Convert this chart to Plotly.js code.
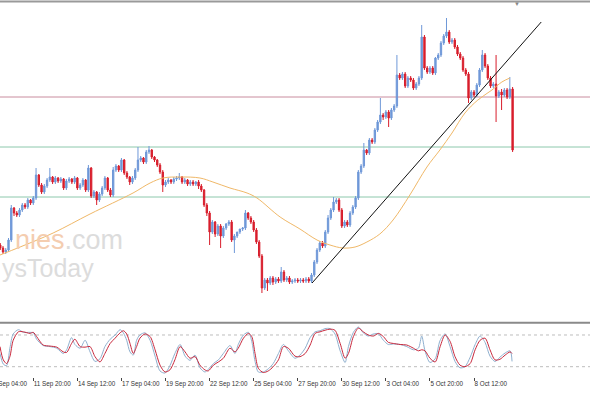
<!DOCTYPE html>
<html><head><meta charset="utf-8">
<script src="https://cdn.plot.ly/plotly-3.0.1.min.js"></script>
<style>html,body{margin:0;padding:0;background:#fff;}#chart{width:590px;height:393px;}</style>
</head><body><div id="chart"></div>
<script>
// H4 bars, index 0 = 9 Sep 04:00 ; first visible bar index
const firstBar = 4;
const openP = [75,72,68,70,80,112,107,105,110,115,
113,120,117,122,145,135,128,134,140,143,
138,142,139,141,132,139,141,138,142,132,
135,140,130,152,124,128,120,126,132,142,
130,125,150,154,150,160,147,143,138,142,
150,160,162,158,168,170,163,160,155,148,
135,138,140,138,141,142,143,138,140,136,
138,136,138,134,130,115,107,88,98,86,
94,84,92,96,98,80,84,88,91,92,
107,102,98,90,78,64,32,40,37,42,
38,41,39,48,40,42,38,39,40,39,
40,39,41,39,45,58,70,77,74,88,
102,110,118,120,110,94,98,95,107,113,
122,148,154,170,167,180,178,190,198,205,
203,208,202,210,214,245,242,246,234,242,
240,232,236,242,283,252,248,252,247,262,
265,277,284,288,278,280,273,266,262,250,
246,222,228,225,235,250,265,254,242,234,
236,224,228,225,230,223,231];
const highP = [77,74,72,82,115,113,109,112,117,117,
122,121,124,152,146,137,136,142,152,144,
144,143,143,142,141,143,142,144,143,137,
142,141,155,153,130,129,128,134,144,143,
132,153,156,155,162,161,149,144,144,152,
173,164,163,170,174,171,164,161,157,150,
140,142,141,143,144,147,144,142,141,140,
140,139,140,136,131,117,109,100,99,96,
96,94,97,100,100,86,88,91,93,110,
108,104,100,92,80,66,42,42,44,44,
43,43,53,50,44,44,41,42,42,42,
42,43,43,47,60,72,79,79,90,105,
112,123,122,122,112,100,100,109,115,124,
150,156,177,171,182,182,192,200,222,207,
210,210,212,216,265,247,248,248,244,244,
242,238,244,295,285,254,254,254,263,267,
279,286,302,290,282,282,275,268,264,252,
248,230,230,237,252,270,267,256,244,238,
265,230,231,232,232,243,233];
const lowP = [70,66,66,68,78,104,103,103,108,111,
111,115,115,120,133,126,126,132,138,136,
136,137,137,130,130,137,136,136,130,130,
133,128,128,122,122,115,118,124,130,128,
123,123,148,148,148,145,141,135,136,140,
148,158,156,156,166,161,158,153,146,128,
133,136,136,136,139,140,136,136,134,134,
134,134,131,128,113,104,75,86,83,84,
72,82,90,94,78,67,82,86,89,90,
100,96,88,76,62,27,30,29,35,35,
36,37,37,38,38,36,36,37,37,37,
37,37,37,37,43,56,68,72,72,86,
100,108,116,108,92,92,93,93,105,111,
120,146,152,165,165,176,176,188,196,200,
201,193,200,208,212,240,240,232,232,238,
230,230,234,240,250,246,246,245,245,260,
263,275,282,276,276,271,264,260,248,244,
217,220,223,223,233,248,252,240,232,232,
198,222,210,223,221,221,168];
const closeP = [72,68,70,80,112,107,105,110,115,113,
120,117,122,145,135,128,134,140,143,138,
142,139,141,132,139,141,138,142,132,135,
140,130,152,124,128,120,126,132,142,130,
125,150,154,150,160,147,143,138,142,150,
160,162,158,168,170,163,160,155,148,135,
138,140,138,141,142,143,138,140,136,138,
136,138,134,130,115,107,88,98,86,94,
84,92,96,98,80,84,88,91,92,107,
102,98,90,78,64,32,40,37,42,38,
41,39,48,40,42,38,39,40,39,40,
39,41,39,45,58,70,77,74,88,102,
110,118,120,110,94,98,95,107,113,122,
148,154,170,167,180,178,190,198,205,203,
208,202,210,214,245,242,246,234,242,240,
232,236,242,283,252,248,252,247,262,265,
277,284,288,278,280,273,266,262,250,246,
222,228,225,235,250,265,254,242,234,236,
224,228,225,230,223,231,170];

// moving average (orange), read at bar positions
const maBar = [3.9,11.2,23.2,36.6,52.2,58.4,63.1,69.3,76.5,81.2,87.4,93.6,97.2,105.6,112.8,119.0,123.7,128.4,132.8,137.1,141.8,146.6,152.7,158.9,163.6,168.0,172.7,177.4,182.5,186.1,189.0];
const maVal = [65,73,87,106,127,137,142,143,142,138,132,127,122,103,91,80,75,72,73,78,86,100,125,153,170,187,207,220,230,238,242];

// trend line end points
const trendBar = [117.2, 200.4];
const trendVal = [37, 298];

// horizontal levels
const levelPink = 223;
const levelGreen = [173, 123];

// stochastic
const stBar = [3.9,5.1,6.3,7.5,8.7,10.6,12.4,14.8,16,17.2,19.6,22.1,24.5,26.9,28.1,29.9,31.1,33.0,34.8,36.6,38.4,40.2,42.0,43.9,45.7,47.5,48.7,49.9,51.1,52.3,53.5,54.7,56.6,58.4,60.2,62.0,63.8,65.6,67.4,69.3,71.1,72.9,74.7,76.5,78.3,79.5,81.4,83.2,85.0,87.4,89.2,90.4,92.3,94.1,95.3,96.5,97.7,99.5,101.3,103.1,105.0,106.8,108.6,111.0,112.8,114.7,116.5,118.3,120.1,121.9,123.7,125.5,127.4,129.2,130.4,132.2,134.0,135.8,137.6,139.5,141.3,143.1,144.9,146.7,149.2,151.6,154.0,155.8,157.0,158.2,160.0,161.9,163.7,165.5,167.3,169.1,170.9,172.7,174.6,176.4,178.2,180.0,181.8,183.6,185.4,187.3,189.1,189.8];
const stSignal = [58,33,26,39,70,86,86,83,85,77,61,59,57,48,47,64,72,58,57,58,39,29,45,64,74,84,88,82,64,45,58,74,82,77,52,23,10,14,33,58,48,36,39,23,14,12,23,29,36,55,48,55,74,83,77,45,17,9,12,20,33,58,55,40,39,45,61,83,86,89,91,89,64,36,45,77,93,86,80,78,83,77,66,64,62,61,55,50,52,50,36,29,58,80,68,39,23,20,26,52,70,74,52,33,34,42,48,45];
const stMain = [45,25,22,55,82,90,85,85,84,72,60,58,55,45,52,75,62,55,70,48,30,35,58,72,80,90,84,70,48,42,70,80,84,70,40,12,8,22,45,62,40,32,42,18,10,15,26,33,45,60,45,62,80,85,68,30,10,10,16,26,45,62,50,36,42,55,75,86,88,92,92,82,50,28,58,85,95,84,78,82,82,70,62,63,62,58,52,55,78,50,28,35,70,82,58,30,18,20,38,62,78,66,40,30,38,46,50,30];
const stLevels = [20, 80];

// time axis labels
const tickBars = [16,32,48,64,80,96,112,128,144,160,176];
const tickLabels = ["11 Sep 20:00","14 Sep 12:00","17 Sep 04:00","19 Sep 20:00","22 Sep 12:00","25 Sep 04:00","27 Sep 20:00","30 Sep 12:00","3 Oct 04:00","5 Oct 20:00","8 Oct 12:00"];
const firstLabel = "9 Sep 04:00";

const bars = closeP.map((_, i) => firstBar + i);
const up = '#6f98d8', dn = '#d81e2c';
const tickFont = {family:'Liberation Sans, Arial, sans-serif', size:6.3, color:'#333'};

const traces = [
  {type:'candlestick', x:bars, open:openP, high:highP, low:lowP, close:closeP,
   xaxis:'x', yaxis:'y',
   increasing:{line:{color:up, width:1}, fillcolor:up},
   decreasing:{line:{color:dn, width:1}, fillcolor:dn},
   whiskerwidth:0, hoverinfo:'skip'},
  {type:'scatter', mode:'lines', x:maBar, y:maVal, xaxis:'x', yaxis:'y',
   line:{color:'#f0b868', width:1, shape:'spline', smoothing:1}, hoverinfo:'skip'},
  {type:'scatter', mode:'lines', x:trendBar, y:trendVal, xaxis:'x', yaxis:'y',
   line:{color:'#111', width:1}, hoverinfo:'skip'},
  {type:'scatter', mode:'lines', x:stBar, y:stMain, xaxis:'x', yaxis:'y2',
   line:{color:'#8fb0cf', width:1, shape:'spline', smoothing:0.8}, hoverinfo:'skip'},
  {type:'scatter', mode:'lines', x:stBar, y:stSignal, xaxis:'x', yaxis:'y2',
   line:{color:'#c8283c', width:1, shape:'spline', smoothing:0.8}, hoverinfo:'skip'}
];

const H = 393, W = 590;
const shapes = [
  {type:'line', xref:'paper', yref:'y', x0:0, x1:1, y0:levelPink, y1:levelPink, line:{color:'#c98c9e', width:1}, layer:'below'},
  ...levelGreen.map(v => ({type:'line', xref:'paper', yref:'y', x0:0, x1:1, y0:v, y1:v, line:{color:'#8cc8ac', width:1}, layer:'below'})),
  ...stLevels.map(v => ({type:'line', xref:'paper', yref:'y2', x0:0, x1:1, y0:v, y1:v, line:{color:'#bdbdbd', width:1, dash:'dot'}, layer:'below'})),
  {type:'line', xref:'paper', yref:'paper', x0:0, x1:1, y0:1-1.5/H, y1:1-1.5/H, line:{color:'#9a9a9a', width:2}},
  {type:'line', xref:'paper', yref:'paper', x0:0, x1:1, y0:1-322.8/H, y1:1-322.8/H, line:{color:'#8a8a8a', width:2}}
];

const annotations = [
  {xref:'paper', yref:'paper', x:13/W, y:1-240/H, xanchor:'left', yanchor:'middle', showarrow:false,
   text:'<span style="color:#f4cdb0">nies</span><span style="color:#dcdcdc">.com</span>',
   font:{family:'Liberation Sans, Arial, sans-serif', size:27}},
  {xref:'paper', yref:'paper', x:0, y:1-268/H, xanchor:'left', yanchor:'middle', showarrow:false,
   text:'ysToday', font:{family:'Liberation Sans, Arial, sans-serif', size:25, color:'#dcdcdc'}},
  {xref:'paper', yref:'paper', x:-9/W, y:1-383.5/H, xanchor:'left', yanchor:'middle', showarrow:false,
   text:firstLabel, font:tickFont},
  {xref:'paper', yref:'paper', x:517/W, y:1-4/H, xanchor:'center', yanchor:'middle', showarrow:false,
   text:'▼', font:{size:6, color:'#888'}}
];

const layout = {
  width:W, height:H, margin:{l:0, r:0, t:0, b:0},
  paper_bgcolor:'#ffffff', plot_bgcolor:'#ffffff', showlegend:false,
  xaxis:{range:[3.909, 218.1], anchor:'y2', tickvals:tickBars, ticktext:tickLabels,
    ticks:'outside', ticklen:3, tickcolor:'#444', tickwidth:1, tickangle:0,
    ticklabelposition:'outside right', tickfont:tickFont,
    showgrid:false, zeroline:false, showline:false, rangeslider:{visible:false}, fixedrange:true},
  yaxis:{domain:[1-321/H, 1-4/H], range:[-1, 316], visible:false, fixedrange:true},
  yaxis2:{domain:[1-377/H, 1-325/H], range:[0.5, 98.9], visible:false, fixedrange:true},
  shapes, annotations
};

Plotly.newPlot('chart', traces, layout, {staticPlot:true, displayModeBar:false});
</script></body></html>
